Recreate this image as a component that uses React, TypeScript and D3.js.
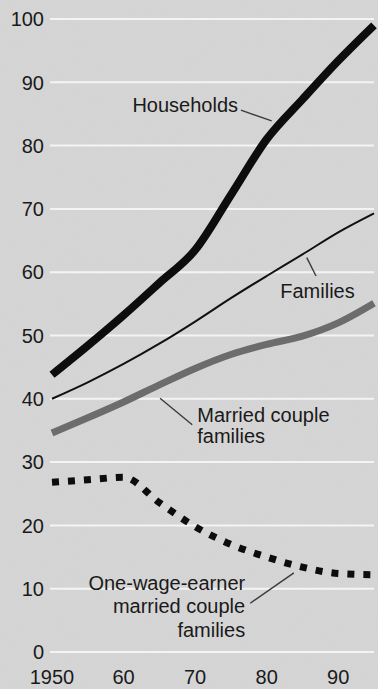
import React from "react";
import * as d3 from "d3";

const years = [1950, 1955, 1960, 1965, 1970, 1975, 1980, 1985, 1990, 1995];
const households = [43.8, 48.4, 53.2, 58.3, 63.5, 72.2, 81.0, 87.3, 93.4, 99.0];
const families = [40.0, 42.6, 45.5, 48.7, 52.2, 55.9, 59.4, 62.8, 66.3, 69.3];
const married = [34.6, 37.0, 39.5, 42.2, 44.8, 47.0, 48.6, 49.9, 52.0, 55.1];
const oneEarner = [26.8, 27.2, 27.6, 23.6, 19.8, 17.0, 15.0, 13.4, 12.4, 12.2];
const yTicks = [0, 10, 20, 30, 40, 50, 60, 70, 80, 90, 100];
const xTicks = [1950, 1960, 1970, 1980, 1990];
const xTickLabels = ["1950", "60", "70", "80", "90"];

const W = 378;
const H = 689;
const FONT = "'Liberation Sans', Arial, Helvetica, sans-serif";

export default function App() {
  const x = d3.scaleLinear().domain([1950, 1995]).range([52, 374]);
  const y = d3.scaleLinear().domain([0, 100]).range([652, 19]);
  const line = (vals: number[]) =>
    d3
      .line<number>()
      .x((_, i) => x(years[i]))
      .y((d) => y(d))
      .curve(d3.curveMonotoneX)(vals) || "";

  const leader = (a: [number, number], b: [number, number]) => (
    <line x1={x(a[0])} y1={y(a[1])} x2={x(b[0])} y2={y(b[1])} stroke="#3a3a3a" strokeWidth={1.4} />
  );

  return (
    <svg
      width={W}
      height={H}
      style={{ position: "absolute", left: 0, top: 0, display: "block" }}
      fontFamily={FONT}
    >
      <defs>
        <filter id="noise" x="0" y="0" width="100%" height="100%">
          <feTurbulence type="fractalNoise" baseFrequency="0.8" numOctaves={2} seed={3} result="t" />
          <feColorMatrix
            in="t"
            type="matrix"
            values="0 0 0 0 0.5  0 0 0 0 0.5  0 0 0 0 0.5  0 0 0 0.35 0"
          />
        </filter>
      </defs>
      <rect width={W} height={H} fill="#d6d6d6" />
      <rect width={W} height={H} filter="url(#noise)" opacity={0.3} />

      {yTicks.map((t) => (
        <g key={t}>
          <line x1={50} x2={374} y1={y(t)} y2={y(t)} stroke="#f4f4f4" strokeWidth={2} />
          <text x={44} y={y(t)} dy="0.36em" textAnchor="end" fontSize={20} fill="#1a1a1a">
            {t}
          </text>
        </g>
      ))}

      {xTicks.map((t, i) => (
        <text key={t} x={x(t)} y={684} textAnchor="middle" fontSize={20} fill="#1a1a1a">
          {xTickLabels[i]}
        </text>
      ))}

      <path d={line(married)} fill="none" stroke="#6c6c6c" strokeWidth={7} />
      <path d={line(families)} fill="none" stroke="#111" strokeWidth={2} />
      <path d={line(households)} fill="none" stroke="#0d0d0d" strokeWidth={8} />
      <path
        d={line(oneEarner)}
        fill="none"
        stroke="#0d0d0d"
        strokeWidth={7}
        strokeDasharray="7 9"
      />

      <g fontSize={20} fill="#1a1a1a">
        <text x={x(1976)} y={y(85.3)} textAnchor="end">Households</text>
        {leader([1976.4, 85.6], [1980.7, 83.9])}

        <text x={x(1981.9)} y={y(55.9)}>Families</text>
        {leader([1985.6, 62.3], [1986.9, 59.4])}

        <text x={x(1970.3)} y={y(36.3)}>Married couple</text>
        <text x={x(1970.3)} y={y(33.0)}>families</text>
        {leader([1965.1, 40.1], [1969.6, 35.9])}

        <text x={x(1977)} y={y(9.8)} textAnchor="end">One-wage-earner</text>
        <text x={x(1977)} y={y(6.2)} textAnchor="end">married couple</text>
        <text x={x(1977)} y={y(2.4)} textAnchor="end">families</text>
        {leader([1977.7, 7.7], [1983.8, 12.5])}
      </g>
    </svg>
  );
}
